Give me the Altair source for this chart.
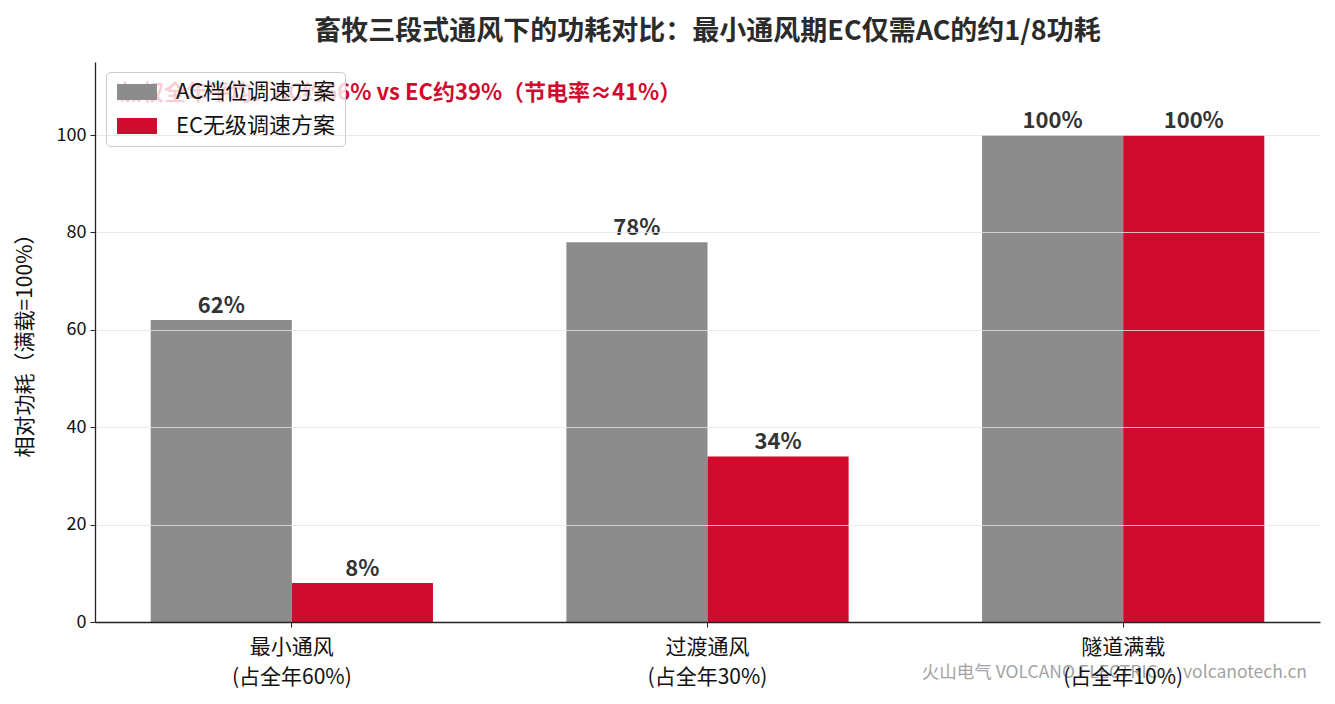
import altair as alt
import pandas as pd

FONT = "Noto Sans CJK SC"

categories = ["最小通风\n(占全年60%)", "过渡通风\n(占全年30%)", "隧道满载\n(占全年10%)"]
schemes = ["AC档位调速方案", "EC无级调速方案"]
ac_values = [62, 78, 100]
ec_values = [8, 34, 100]
colors = ["#8c8c8c", "#d00c2e"]

title_text = "畜牧三段式通风下的功耗对比：最小通风期EC仅需AC的约1/8功耗"
note_text = "加权全年平均：AC约66% vs EC约39%（节电率≈41%）"
y_title = "相对功耗（满载=100%）"
watermark = "火山电气 VOLCANO ELECTRIC · volcanotech.cn"

rows = []
for c, a, e in zip(categories, ac_values, ec_values):
    rows.append({"cat": c, "scheme": schemes[0], "value": a, "label": f"{a}%"})
    rows.append({"cat": c, "scheme": schemes[1], "value": e, "label": f"{e}%"})
df = pd.DataFrame(rows)

x_enc = alt.X(
    "cat:N", sort=categories, title=None,
    scale=alt.Scale(paddingInner=0.321, paddingOuter=0.134),
    axis=alt.Axis(
        labelAngle=0, labelExpr="split(datum.label, '\\n')",
        labelFontSize=21, labelColor="#111111", labelFont=FONT,
        labelLineHeight=30, labelPadding=9, tickSize=5, tickColor="#222222",
        domainColor="#222222", domainWidth=1.3, grid=False, zindex=2,
    ),
)
y_scale = alt.Scale(domain=[0, 115], nice=False)
xoff = alt.XOffset("scheme:N", sort=schemes)

bars = alt.Chart(df).mark_bar().encode(
    x=x_enc,
    xOffset=xoff,
    y=alt.Y(
        "value:Q", scale=y_scale,
        axis=alt.Axis(
            values=[0, 20, 40, 60, 80, 100], title=y_title,
            titleFont=FONT, titleFontSize=21, titleFontWeight="normal", titleColor="#111111",
            titleX=-70, titleY=278, titleAngle=-90, titleAlign="center", titleBaseline="middle",
            labelFontSize=18, labelColor="#111111", labelFont=FONT, labelPadding=4,
            tickSize=5, tickColor="#222222", domainColor="#222222", domainWidth=1.3,
            grid=True, gridColor="#e3e3e3", gridOpacity=0.8, zindex=1,
        ),
    ),
    color=alt.Color(
        "scheme:N", sort=schemes,
        scale=alt.Scale(domain=schemes, range=colors),
        legend=alt.Legend(
            title=None, orient="none", legendX=11, legendY=10,
            labelFont=FONT, labelFontSize=22, labelColor="#111111",
            symbolType="M-4.44,-1.78H4.44V1.78H-4.44Z", symbolSize=81,
            symbolStrokeWidth=0, symbolOpacity=1, symbolOffset=11,
            labelOffset=28, rowPadding=12, padding=9,
            fillColor="rgba(255,255,255,0.8)", strokeColor="#cccccc", cornerRadius=4,
        ),
    ),
)

labels = alt.Chart(df).mark_text(
    baseline="bottom", dy=-2, font=FONT, fontSize=22, fontWeight="bold", color="#333333"
).encode(
    x=alt.X("cat:N", sort=categories),
    xOffset=xoff,
    y=alt.Y("value:Q", scale=y_scale),
    text="label:N",
)

note = alt.Chart(pd.DataFrame({"t": [note_text]})).mark_text(
    align="left", baseline="middle", font=FONT, fontSize=22, fontWeight="bold", color="#d00c2e"
).encode(x=alt.value(25), y=alt.value(31), text="t:N")

wm = alt.Chart(pd.DataFrame({"t": [watermark]})).mark_text(
    align="right", baseline="middle", font=FONT, fontSize=17.5, color="#999999", opacity=0.9
).encode(x=alt.value(1212), y=alt.value(611), text="t:N")

chart = alt.layer(note, bars, labels, wm).properties(
    width=1225, height=560,
    title=alt.TitleParams(title_text, font=FONT, fontSize=27, fontWeight="bold",
                          color="#2b2b2b", anchor="middle", offset=16),
    autosize=alt.AutoSizeParams(type="none"),
    padding={"left": 87, "top": 54, "right": 7, "bottom": 70},
    background="white",
).configure_view(strokeOpacity=0, strokeWidth=0)

chart.save("out.html", embed_options={"renderer": "svg", "actions": False})
